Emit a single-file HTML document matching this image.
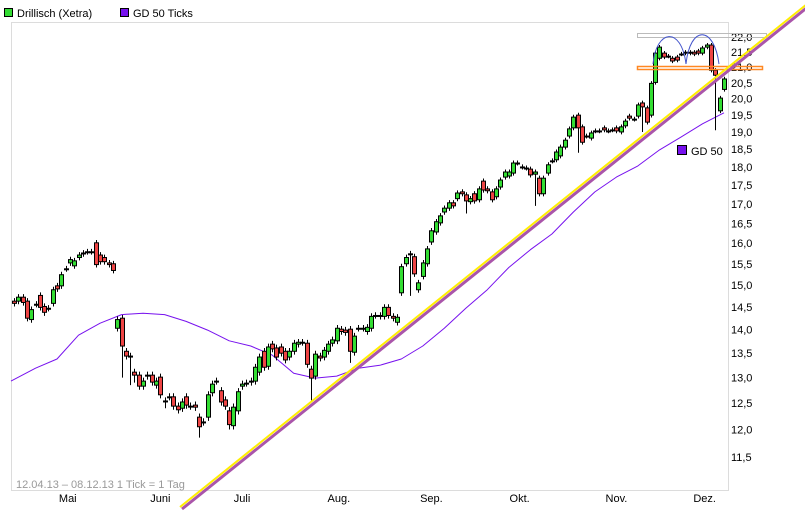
<!DOCTYPE html>
<html><head><meta charset="utf-8"><style>
body{margin:0;background:#fff;font-family:"Liberation Sans",sans-serif;}
svg text{font-family:"Liberation Sans",sans-serif;}
</style></head><body>
<svg id="chart" width="805" height="524" xmlns="http://www.w3.org/2000/svg">
<rect x="0" y="0" width="805" height="524" fill="#fff"/>
<g>
<rect x="4.5" y="8.5" width="8" height="8" fill="#33dd33" stroke="#000"/>
<text x="17" y="17" font-size="11">Drillisch (Xetra)</text>
<rect x="120.5" y="8.5" width="8" height="8" fill="#7711ee" stroke="#000"/>
<text x="133" y="17" font-size="11">GD 50 Ticks</text>
</g>
<rect x="11.5" y="22.5" width="717" height="468" fill="none" stroke="#dcdcdc"/>
<g id="ylabels"></g>
<g id="xlabels"></g>
<text x="16" y="488" font-size="11" fill="#999">12.04.13 – 08.12.13   1 Tick = 1 Tag</text>
<g id="ma"></g>
<g id="candles"></g>
<g>
<rect x="637.5" y="33.5" width="129" height="4" fill="none" stroke="#bbb"/>
<rect x="637.5" y="66.5" width="125" height="3" fill="none" stroke="#ff8822" stroke-width="1.5"/>
<path d="M653,64 C656,30 681,25 686,64" fill="none" stroke="#4455cc" stroke-width="1"/>
<path d="M686,64 C690,25 714,25 719,64" fill="none" stroke="#4455cc" stroke-width="1"/>
<line x1="182" y1="509" x2="809" y2="6" stroke="#aa55aa" stroke-width="3"/>
<line x1="180" y1="507" x2="807" y2="4" stroke="#ffee00" stroke-width="2"/>
</g>
<rect x="677.5" y="145.5" width="9" height="9" fill="#7711ee" stroke="#000"/>
<text x="691" y="155" font-size="11">GD 50</text>
</svg>
<script>
const opens=[14.63,14.63,14.72,14.63,14.22,14.56,14.76,14.51,14.47,14.58,14.98,14.98,15.38,15.52,15.45,15.65,15.76,15.79,15.79,16.01,15.71,15.65,15.52,15.50,
14.03,14.25,13.54,13.44,13.11,13.05,12.83,13.03,13.05,12.85,13.01,12.54,12.62,12.62,12.44,12.40,12.62,12.44,12.46,12.23,12.14,12.23,12.70,12.93,12.74,12.56,12.35,12.07,12.35,12.83,12.89,12.91,12.93,
13.11,13.54,13.23,13.69,13.61,13.63,13.54,13.42,13.54,13.69,13.73,13.71,13.17,13.03,13.44,13.42,13.54,13.71,13.76,14.01,13.99,14.01,13.52,14.03,14.03,13.96,14.03,14.31,14.31,14.29,14.49,14.29,14.16,
14.82,15.50,15.74,15.67,14.89,15.20,15.50,16.03,16.28,16.51,16.79,16.89,17.03,17.14,17.32,17.24,17.06,17.27,17.11,17.61,17.40,17.32,17.19,17.45,17.72,17.75,17.83,18.11,18.00,17.97,17.94,17.80,17.69,17.27,17.83,18.17,18.20,18.31,18.56,18.88,19.12,19.50,19.15,18.88,18.82,19.03,19.03,19.12,19.03,19.06,19.12,19.00,19.18,19.47,19.38,19.47,19.87,19.72,19.50,20.51,21.29,21.46,21.36,21.29,21.33,21.43,21.46,21.46,21.49,21.53,21.46,21.66,21.73,20.90,19.63,20.29];
const closes=[14.58,14.72,14.60,14.25,14.44,14.56,14.49,14.38,14.47,14.89,14.91,15.24,15.38,15.60,15.57,15.71,15.74,15.79,15.79,15.48,15.55,15.55,15.48,15.34,
14.22,13.65,13.44,13.44,13.05,12.83,12.93,13.05,12.91,12.93,12.66,12.54,12.62,12.44,12.37,12.52,12.46,12.44,12.42,12.05,12.14,12.66,12.87,12.93,12.52,12.44,12.09,12.42,12.72,12.87,12.89,12.93,13.21,
13.42,13.21,13.63,13.59,13.42,13.50,13.36,13.54,13.71,13.73,13.73,13.27,12.99,13.48,13.40,13.56,13.69,13.78,14.03,13.96,13.94,13.54,13.86,14.03,14.03,14.05,14.29,14.31,14.29,14.49,14.31,14.25,14.27,
15.43,15.65,15.74,15.26,15.05,15.52,15.86,16.31,16.54,16.69,16.89,17.03,16.95,17.29,17.27,17.08,17.14,17.08,17.40,17.37,17.35,17.11,17.40,17.64,17.86,17.86,18.11,18.11,18.00,17.97,17.78,17.86,17.27,17.69,18.06,18.17,18.42,18.56,18.76,19.09,19.44,19.12,18.70,18.88,18.97,19.03,19.03,19.06,19.03,19.06,19.03,19.15,19.32,19.41,19.38,19.81,19.75,19.29,20.48,21.46,21.66,21.33,21.36,21.20,21.23,21.43,21.49,21.49,21.43,21.46,21.63,21.73,20.90,20.74,20.02,20.62];
const longWickIdx=[3,7,25,27,28,35,43,50,69,78,92,105,121,131,146,148,160,163];
const longWickLow=[14.2,14.3,13.0,12.85,12.9,12.4,11.85,12.0,12.55,13.3,14.75,16.75,16.95,18.4,19.0,20.4,21.7,19.05];
const maIdx=[0,5,10,15,20,25,30,35,40,45,50,55,60,65,70,75,80,85,90,95,100,105,110,115,120,125,130,135,140,145,150,155,160,165];
const maVals=[12.93,13.19,13.38,13.88,14.14,14.33,14.36,14.33,14.18,13.99,13.76,13.65,13.46,13.09,12.99,13.03,13.19,13.25,13.38,13.65,14.03,14.47,14.89,15.41,15.84,16.23,16.79,17.32,17.72,18.03,18.48,18.85,19.24,19.57];
const yTicks=[11.5,12,12.5,13,13.5,14,14.5,15,15.5,16,16.5,17,17.5,18,18.5,19,19.5,20,20.5,21,21.5,22];
const months=["Mai","Juni","Juli","Aug.","Sep.","Okt.","Nov.","Dez."];
const monthDay=[12.5,34,53,75.5,97,117.5,140,160.5];

const NS="http://www.w3.org/2000/svg";
const n=opens.length;
const X0=14,X1=724,step=(X1-X0)/(n-1);
function xs(i){return X0+i*step;}
function ys(p){return 457-647.4*Math.log(p/11.5);}
function mk(tag,attrs,parent){const e=document.createElementNS(NS,tag);for(const k in attrs)e.setAttribute(k,attrs[k]);parent.appendChild(e);return e;}

const yl=document.getElementById('ylabels');
yTicks.forEach(v=>{
  const t=mk('text',{x:731,y:ys(v)+4,'font-size':11},yl);
  
  
  t.textContent=v.toFixed(1).replace('.',',');
});
const xl=document.getElementById('xlabels');
months.forEach((m,k)=>{
  const t=mk('text',{x:xs(monthDay[k]),y:502,'font-size':11,'text-anchor':'middle'},xl);
  
  
  t.textContent=m;
});

const ma=document.getElementById('ma');
let d='';maIdx.forEach((i,k)=>{d+=(k?'L':'M')+(i===0?11:xs(i)).toFixed(1)+','+ys(maVals[k]).toFixed(1);});
const mp=mk('path',{d:d,fill:'none',stroke:'#7711ee','stroke-width':1,'stroke-linejoin':'round'},ma);



const cg=document.getElementById('candles');
for(let i=0;i<n;i++){
  const o=opens[i],c=closes[i],x=Math.round(xs(i));
  let hi=Math.max(o,c)+0.07,lo=Math.min(o,c)-0.07;
  const w=longWickIdx.indexOf(i);if(w>=0)lo=Math.min(lo,longWickLow[w]);
  const wick=mk('line',{x1:x+0.5,x2:x+0.5,y1:ys(hi),y2:ys(lo),stroke:'#000','stroke-width':1},cg);
  
  
  const top=ys(Math.max(o,c)),bot=ys(Math.min(o,c));
  const h=Math.max(bot-top,1);
  const body=mk('rect',{x:x-1.5,y:top,width:4,height:h,fill:c>o?'#33dd33':(c<o?'#ee4444':'#000'),stroke:'#000','stroke-width':1},cg);
  
  
}
</script>
</body></html>
